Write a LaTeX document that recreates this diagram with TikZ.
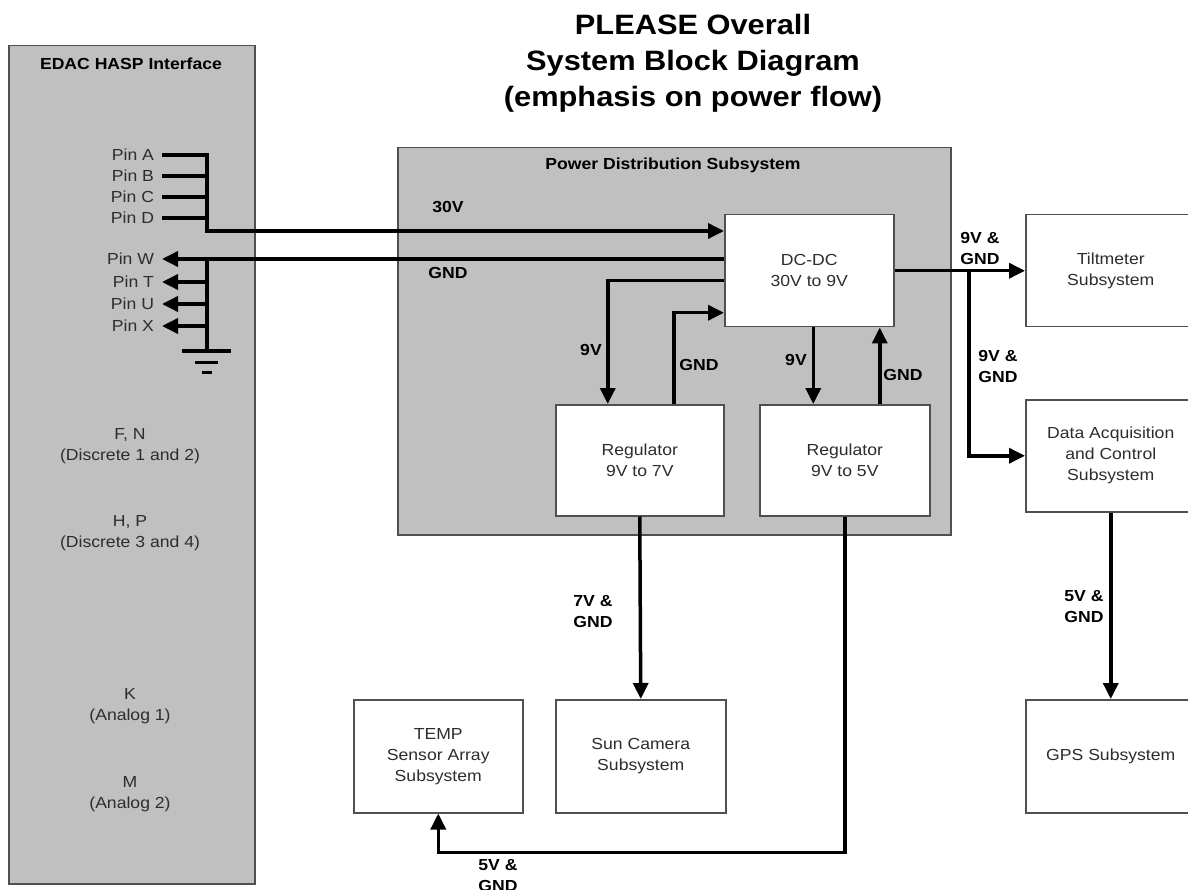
\documentclass[tikz,border=0pt]{standalone}
\usepackage{fontspec}
\setmainfont{Liberation Sans}[FakeStretch=1.1]
\usepackage{tikz}
\usetikzlibrary{arrows.meta, positioning, calc}
\definecolor{cPanel}{RGB}{192,192,192}
\definecolor{cEdge}{RGB}{80,80,80}
\definecolor{cText}{RGB}{45,45,45}
\tikzset{
	panel/.style  ={rectangle, draw=cEdge, line width=1.5pt, fill=cPanel, anchor=north west, inner sep=0pt},
	subsys/.style ={rectangle, draw=cEdge, line width=1.5pt, fill=white, anchor=north west, align=center, text=cText, minimum width=170pt, minimum height=112pt, inner sep=0pt},
	pin/.style    ={anchor=east, inner sep=0pt, outer sep=8pt, text=cText},
	note/.style   ={align=center, text=cText},
	lbl/.style    ={align=center, font=\fontsize{16}{21}\selectfont\bfseries},
	heading/.style={font=\fontsize{16}{20}\selectfont\bfseries},
	% power lines
	wire/.style   ={line width=3.5pt},
	pwr/.style    ={line width=3.5pt, -{Triangle[length=16pt, width=15pt]}},
}
\begin{document}
\begin{tikzpicture}[x=1pt, y=-1pt, every node/.style={font=\fontsize{16}{21}\selectfont}]
	\useasboundingbox (0,0) rectangle (1188,890);
	\node[font=\fontsize{28}{36}\selectfont\bfseries, align=center] (title) at (693,63) {PLEASE Overall\\System Block Diagram\\(emphasis on power flow)};
	% EDAC HASP interface
	\node[panel, minimum width=246pt, minimum height=838pt] (edac) at (8,45) {};
	\node[heading] (edachead) at (131,64) {EDAC HASP Interface};
	\node[pin] (pinA) at (162,155) {Pin A};
	\node[pin] (pinB) at (162,176) {Pin B};
	\node[pin] (pinC) at (162,197) {Pin C};
	\node[pin] (pinD) at (162,218) {Pin D};
	\node[pin] (pinW) at (162,259) {Pin W};
	\node[pin] (pinT) at (162,282) {Pin T};
	\node[pin] (pinU) at (162,304) {Pin U};
	\node[pin] (pinX) at (162,326) {Pin X};
	\node[note] (fn) at (130,446) {F, N\\(Discrete 1 and 2)};
	\node[note] (hp) at (130,533) {H, P\\(Discrete 3 and 4)};
	\node[note] (k) at (130,706) {K\\(Analog 1)};
	\node[note] (m) at (130,794) {M\\(Analog 2)};
	\coordinate (vbus) at (207,231);
	\coordinate (gbus) at (207,351);
	% power distribution
	\node[panel, minimum width=553pt, minimum height=387pt] (pds) at (397,147) {};
	\node[heading] (pdshead) at (673,165) {Power Distribution Subsystem};
	\node[subsys, minimum width=169pt] (dcdc) at (724,214) {DC-DC\\30V to 9V};
	\node[subsys, minimum width=168pt, minimum height=111pt] (reg7) at (555,404) {Regulator\\9V to 7V};
	\node[subsys, minimum height=111pt] (reg5) at (759,404) {Regulator\\9V to 5V};
	% loads
	\node[subsys] (tilt) at (1025,214) {Tiltmeter\\Subsystem};
	\node[subsys] (dac) at (1025,399) {Data Acquisition\\and Control\\Subsystem};
	\node[subsys, minimum height=113pt] (gps) at (1025,699) {GPS Subsystem};
	\node[subsys, minimum height=113pt] (sun) at (555,699) {Sun Camera\\Subsystem};
	\node[subsys, minimum width=169pt, minimum height=113pt] (temp) at (353,699) {TEMP\\Sensor Array\\Subsystem};
	\coordinate (split) at (969,270);
	% connectors
	\draw[pwr] (pinA.east) -| (vbus) -- (vbus -| dcdc.west);
	\foreach \p in {pinB,pinC,pinD} \draw[wire] (\p.east) -- (\p.east -| vbus);
	\draw[pwr] (dcdc.west |- pinW.east) -- (pinW.east);
	\draw[wire] (gbus |- pinW.east) -- (gbus);
	\foreach \p in {pinT,pinU,pinX} \draw[pwr] (gbus |- \p.east) -- (\p.east);
	\draw[line width=3.5pt] ([xshift=-25pt]gbus) -- ([xshift=24pt]gbus);
	\draw[line width=3pt] ([xshift=-12pt, yshift=-11pt]gbus) -- ([xshift=11pt, yshift=-11pt]gbus);
	\draw[line width=3pt] ([xshift=-5pt, yshift=-21pt]gbus) -- ([xshift=5pt, yshift=-21pt]gbus);
	\draw[pwr] ([yshift=-10pt]dcdc.west) -| ([xshift=-32pt]reg7.north);
	\draw[pwr] ([xshift=34pt]reg7.north) |- ([yshift=-42pt]dcdc.west);
	\draw[pwr] ([xshift=4pt]dcdc.south) -- ([xshift=4pt]dcdc.south |- reg5.north);
	\draw[pwr] ([xshift=35pt]reg5.north) -- ([xshift=35pt]reg5.north |- dcdc.south);
	\draw[pwr] (dcdc.east) -- (tilt.west);
	\draw[pwr] (split) |- (dac.west);
	\draw[pwr] (dac.south) -- (gps.north);
	\draw[pwr] (reg7.south) -- (sun.north);
	\draw[pwr] (reg5.south) -- ++(0,336) -| (temp.south);
	% labels
	\node[lbl] (l30) at (448,207) {30V};
	\node[lbl] (lgnd) at (448,273) {GND};
	\node[lbl] (l9a) at (591,350) {9V};
	\node[lbl] (lg7) at (699,365) {GND};
	\node[lbl] (l9b) at (796,360) {9V};
	\node[lbl] (lg5) at (903,375) {GND};
	\node[lbl] (ltilt) at (980,248) {9V \&\\GND};
	\node[lbl] (ldac) at (998,366) {9V \&\\GND};
	\node[lbl] (lsun) at (593,612) {7V \&\\GND};
	\node[lbl] (lgps) at (1084,607) {5V \&\\GND};
	\node[lbl] (ltemp) at (498,876) {5V \&\\GND};
\end{tikzpicture}
\end{document}
